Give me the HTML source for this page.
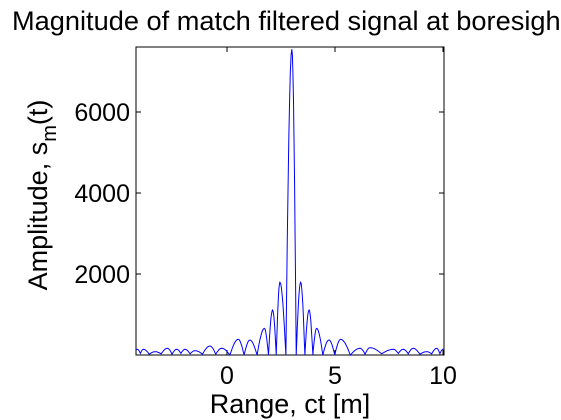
<!DOCTYPE html>
<html><head><meta charset="utf-8"><style>
body{margin:0;background:#fff;overflow:hidden;}
svg{display:block;font-family:"Liberation Sans",sans-serif;}
</style></head><body>
<svg id="chart" width="561" height="420" viewBox="0 0 561 420">
<text x="12" y="30" font-size="27.2" fill="#000">Magnitude of match filtered signal at boresight</text>
<rect x="136" y="47" width="308" height="308" fill="#fff" stroke="#000" stroke-width="1"/>
<g id="ticks"></g>
<polyline id="series" fill="none" stroke="#0000ff" stroke-width="1"/>
<text x="290" y="413" font-size="27" text-anchor="middle">Range, ct [m]</text>
<text transform="translate(47,195) rotate(-90)" font-size="27" text-anchor="middle">Amplitude, s<tspan font-size="20" dy="9">m</tspan><tspan dy="-9">(t)</tspan></text>
</svg>
<script>
const lobeX = [-4.15,-3.87,-3.33,-2.76,-2.33,-1.94,-1.48,-0.79,-0.25,0.52,1.06,1.73,2.11,2.45,3.0,3.41,3.80,4.15,4.72,5.26,6.16,6.62,7.70,8.16,8.62,9.24,9.71,10.0];
const lobeAmp = [140,140,82,165,140,140,107,222,165,387,370,658,1111,1795,7550,1795,1111,658,370,387,165,180,140,140,165,82,165,140];
const valleyAmp = [40,20,30,20,40,30,20,20,0,0,0,0,0,0,0,0,0,0,0,0,20,30,40,30,20,30,30];
const xTicks = [0,5,10];
const yTicks = [2000,4000,6000];
const xs = v => 227 + v*21.6;
const ys = v => 355 - v*0.0405;
const NS='http://www.w3.org/2000/svg';
const tg=document.getElementById('ticks');
function line(x1,y1,x2,y2){const l=document.createElementNS(NS,'line');l.setAttribute('x1',x1);l.setAttribute('y1',y1);l.setAttribute('x2',x2);l.setAttribute('y2',y2);l.setAttribute('stroke','#000');return l;}
function txt(x,y,s,anchor){const t=document.createElementNS(NS,'text');t.setAttribute('x',x);t.setAttribute('y',y);t.setAttribute('font-size','25');t.setAttribute('text-anchor',anchor);t.textContent=s;return t;}
xTicks.forEach(v=>{const x=xs(v);
 const a=line(x,355,x,350);tg.appendChild(a);
 const b=line(x,47,x,52);tg.appendChild(b);
 const t=txt(x,384,String(v),'middle');tg.appendChild(t);});
yTicks.forEach(v=>{const y=ys(v);
 const a=line(136,y,141,y);tg.appendChild(a);
 const b=line(444,y,439,y);tg.appendChild(b);
 const t=txt(130,y+9,String(v),'end');tg.appendChild(t);});
const pts=[];
for(let i=0;i<lobeX.length;i++){
  const left = i>0 ? (lobeX[i-1]+lobeX[i])/2 : lobeX[i]-0.1;
  const right = i<lobeX.length-1 ? (lobeX[i]+lobeX[i+1])/2 : lobeX[i]+0.05;
  const vl = i>0 ? valleyAmp[i-1] : lobeAmp[i]*0.8;
  const vr = i<lobeX.length-1 ? valleyAmp[i] : lobeAmp[i];
  const n=8;
  for(let k=0;k<=n;k++){const f=k/n;const x=left+(lobeX[i]-left)*f;const a=vl+(lobeAmp[i]-vl)*Math.sin(f*Math.PI/2);pts.push([x,a]);}
  for(let k=1;k<=n;k++){const f=k/n;const x=lobeX[i]+(right-lobeX[i])*f;const a=vr+(lobeAmp[i]-vr)*Math.cos(f*Math.PI/2);pts.push([x,a]);}
}
document.getElementById('series').setAttribute('points',pts.filter(p=>xs(p[0])>=136&&xs(p[0])<=444).map(p=>xs(p[0]).toFixed(1)+','+ys(p[1]).toFixed(1)).join(' '));
</script>
</body></html>
